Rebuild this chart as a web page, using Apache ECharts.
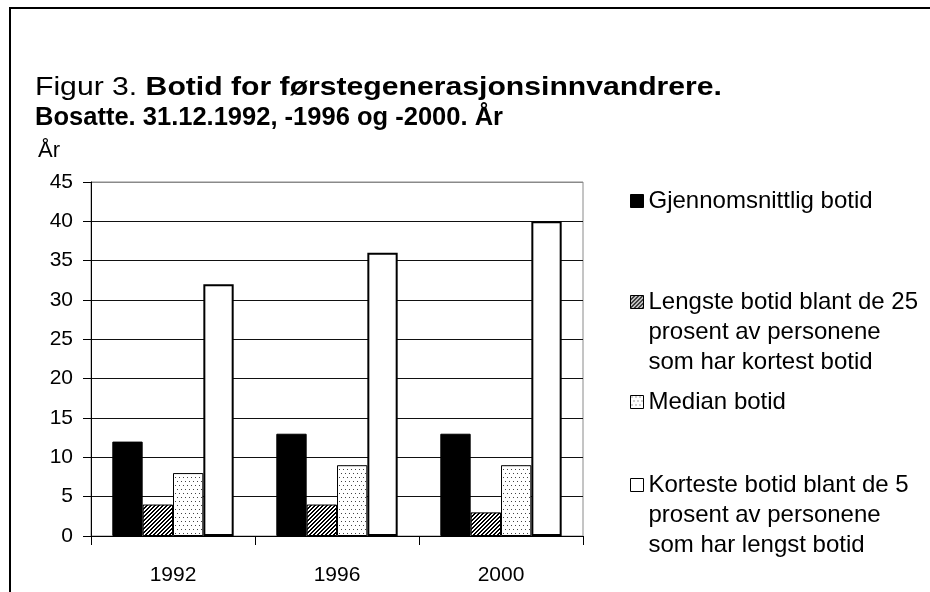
<!DOCTYPE html>
<html>
<head>
<meta charset="utf-8">
<script src="https://cdn.jsdelivr.net/npm/echarts@6/dist/echarts.min.js"></script>
<style>
html, body { margin: 0; padding: 0; background: #fff; }
#main { width: 930px; height: 592px; }
</style>
</head>
<body>
<div id="main"></div>
<script>
// Data
var years = ['1992', '1996', '2000'];
var gjennomsnitt = [12, 13, 13];
var lengste25 = [4, 4, 3];
var median = [8, 9, 9];
var korteste5 = [32, 36, 40];

var seriesNames = ['Gjennomsnittlig botid', 'Lengste botid', 'Median botid', 'Korteste botid'];
var legendLabels = [
    'Gjennomsnittlig botid',
    'Lengste botid blant de 25\nprosent av personene\nsom har kortest botid',
    'Median botid',
    'Korteste botid blant de 5\nprosent av personene\nsom har lengst botid'
];
var titleFirst = 'Figur 3. ';
var titleBold1 = 'Botid for førstegenerasjonsinnvandrere.';
var titleBold2 = 'Bosatte. 31.12.1992, -1996 og -2000. År';
var yName = 'År';

var fontName = "'Liberation Sans', Arial, sans-serif";

// Fyllmonstre for stolpene
function hatchPattern() {
    var c = document.createElement('canvas');
    c.width = 4; c.height = 4;
    var ctx = c.getContext('2d');
    ctx.fillStyle = '#fff';
    ctx.fillRect(0, 0, 4, 4);
    ctx.fillStyle = '#000';
    for (var i = 0; i < 4; i++) {
        ctx.fillRect(3 - i, i, 1, 1);
        ctx.fillRect((4 - i) % 4, i, 1, 1);
    }
    return c;
}
function dotPattern() {
    var c = document.createElement('canvas');
    c.width = 8; c.height = 8;
    var ctx = c.getContext('2d');
    ctx.fillStyle = '#fff';
    ctx.fillRect(0, 0, 8, 8);
    ctx.fillStyle = '#444';
    ctx.fillRect(1, 1, 1, 1);
    ctx.fillRect(5, 1, 1, 1);
    ctx.fillRect(3, 5, 1, 1);
    ctx.fillRect(7, 5, 1, 1);
    return c;
}

// Tittelen i originalen er strukket, maal bredden og skaler
var measureCtx = document.createElement('canvas').getContext('2d');
function textWidth(str, weight, size) {
    measureCtx.font = weight + ' ' + size + 'px ' + fontName;
    return measureCtx.measureText(str).width;
}
var titleSize = 26;
var line1Width = textWidth(titleFirst, 'normal', titleSize) + textWidth(titleBold1, 'bold', titleSize);
var line2Width = textWidth(titleBold2, 'bold', titleSize);
var scale1 = 687 / line1Width;
var scale2 = 468 / line2Width;

var chart = echarts.init(document.getElementById('main'));

function legendFor(i, top, multi) {
    return {
        left: 630,
        top: top,
        padding: 0,
        orient: 'vertical',
        icon: 'rect',
        itemWidth: 13,
        itemHeight: 13,
        selectedMode: false,
        data: [seriesNames[i]],
        // tomme linjer foran holder ikonet paa hoyde med forste linje
        formatter: function () { return multi ? '\n\n' + legendLabels[i] : legendLabels[i]; },
        itemStyle: { borderColor: '#000', borderWidth: 1 },
        textStyle: {
            fontFamily: fontName,
            fontSize: 24,
            lineHeight: 30,
            color: '#000'
        }
    };
}

var splitColors = ['#111', '#111', '#111', '#111', '#111', '#111', '#111', '#111', '#111', '#8a8a8a'];

var option = {
    animation: false,
    backgroundColor: '#fff',
    legend: [
        legendFor(0, 201 - 15, false),
        legendFor(1, 302 - 75, true),
        legendFor(2, 402 - 15, false),
        legendFor(3, 485 - 75, true)
    ],
    grid: {
        left: 91,
        right: 347,
        top: 182,
        bottom: 56,
        show: true,
        borderColor: '#8a8a8a',
        borderWidth: 1,
        containLabel: false
    },
    xAxis: {
        type: 'category',
        data: years,
        axisLine: { lineStyle: { color: '#000', width: 1 } },
        axisTick: { show: true, length: 9, lineStyle: { color: '#000' } },
        axisLabel: { fontFamily: fontName, fontSize: 21, color: '#000', margin: 29 },
        splitLine: { show: false }
    },
    yAxis: {
        type: 'value',
        min: 0,
        max: 45,
        interval: 5,
        name: yName,
        nameLocation: 'end',
        nameGap: 31,
        nameTextStyle: { fontFamily: fontName, fontSize: 22, color: '#000', align: 'left', verticalAlign: 'middle', padding: [0, 0, 0, -53] },
        axisLine: { show: true, lineStyle: { color: '#000', width: 1 } },
        axisTick: { show: true, length: 8, lineStyle: { color: '#000' } },
        axisLabel: { fontFamily: fontName, fontSize: 21, color: '#000', margin: 18 },
        splitLine: { show: true, lineStyle: { color: splitColors, width: 1 } }
    },
    series: [{
        name: seriesNames[0],
        type: 'bar',
        barGap: 0,
        barCategoryGap: '26%',
        data: gjennomsnitt,
        itemStyle: { color: '#000', borderColor: '#000', borderWidth: 1 },
        emphasis: { disabled: true }
    }, {
        name: seriesNames[1],
        type: 'bar',
        data: lengste25,
        itemStyle: { color: { image: hatchPattern(), repeat: 'repeat' }, borderColor: '#000', borderWidth: 1 },
        emphasis: { disabled: true }
    }, {
        name: seriesNames[2],
        type: 'bar',
        data: median,
        itemStyle: { color: { image: dotPattern(), repeat: 'repeat' }, borderColor: '#000', borderWidth: 1 },
        emphasis: { disabled: true }
    }, {
        name: seriesNames[3],
        type: 'bar',
        data: korteste5,
        itemStyle: { color: '#fff', borderColor: '#000', borderWidth: 2 },
        emphasis: { disabled: true }
    }],
    graphic: [{
        type: 'rect',
        silent: true,
        shape: { x: 10, y: 8, width: 960, height: 620 },
        style: { fill: null, stroke: '#000', lineWidth: 2 }
    }, {
        type: 'text',
        silent: true,
        x: 35,
        y: 88,
        scaleX: scale1,
        style: {
            text: '{n|' + titleFirst + '}{b|' + titleBold1 + '}',
            verticalAlign: 'middle',
            align: 'left',
            rich: {
                n: { fontFamily: fontName, fontSize: titleSize, fontWeight: 'normal', fill: '#000' },
                b: { fontFamily: fontName, fontSize: titleSize, fontWeight: 'bold', fill: '#000' }
            }
        }
    }, {
        type: 'text',
        silent: true,
        x: 35,
        y: 118,
        scaleX: scale2,
        style: {
            text: titleBold2,
            verticalAlign: 'middle',
            align: 'left',
            fontFamily: fontName,
            fontSize: titleSize,
            fontWeight: 'bold',
            fill: '#000'
        }
    }]
};

chart.setOption(option);
</script>
</body>
</html>
